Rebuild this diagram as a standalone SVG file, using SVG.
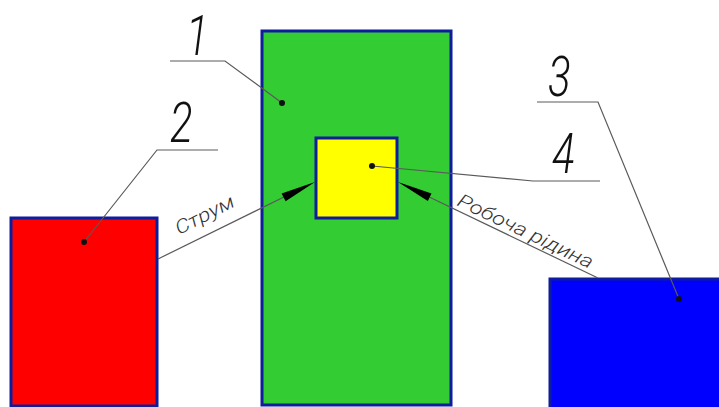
<svg xmlns="http://www.w3.org/2000/svg" width="719" height="407" viewBox="0 0 719 407">
<style>
.box{stroke:#0f1c9c;stroke-width:3}
.lead{stroke:#5a5a5a;stroke-width:1.2;fill:none}
.dot{fill:#111}
.num{font-family:Roboto,"Open Sans","Liberation Sans",sans-serif;font-style:italic;font-size:56px;fill:#111;font-weight:300}
.lbl{font-family:Roboto,"Open Sans","Liberation Sans",sans-serif;font-style:italic;font-size:19px;fill:#333;font-weight:300}
.arrow{fill:#000}
</style>
<rect width="719" height="407" fill="#ffffff"/>
<g id="node1"><rect class="box" x="262" y="31" width="189" height="374" fill="#33cc33"/></g>
<g id="node2"><rect class="box" x="11" y="218" width="146" height="188" fill="#ff0000"/></g>
<g id="node3"><rect class="box" x="550" y="279" width="172" height="131" fill="#0000ff"/></g>
<g id="node4"><rect class="box" x="316" y="138" width="81" height="80" fill="#ffff00"/></g>
<g id="connectors">
<path class="lead" d="M170,61 H225 L282,103"/>
<path class="lead" d="M218,150 H157 L84,242"/>
<path class="lead" d="M537,102 H598 L679,299"/>
<path class="lead" d="M372,166 L533,181 H600"/>
<circle class="dot" cx="282" cy="103" r="3"/>
<circle class="dot" cx="84" cy="242" r="3"/>
<circle class="dot" cx="679" cy="299" r="3"/>
<circle class="dot" cx="372" cy="166" r="3"/>
<path class="lead" d="M158,259 L290,194"/>
<polygon class="arrow" points="315,182 285.6,201.2 281.6,193.6"/>
<path class="lead" d="M598,278 L425,195"/>
<polygon class="arrow" points="398,182 427.8,201 431.5,193.4"/>
</g>
<g id="labels">
<text class="num" transform="translate(186,55) scale(0.75,1)">1</text>
<text class="num" transform="translate(170,142) scale(0.75,1)">2</text>
<text class="num" transform="translate(548,96) scale(0.75,1)">3</text>
<text class="num" transform="translate(552,173) scale(0.75,1)">4</text>
<text class="lbl" transform="translate(179,235) rotate(-27)" textLength="64" lengthAdjust="spacingAndGlyphs">Струм</text>
<text class="lbl" transform="translate(456,205) rotate(25.6)" textLength="148" lengthAdjust="spacingAndGlyphs">Робоча рідина</text>
</g>
</svg>
